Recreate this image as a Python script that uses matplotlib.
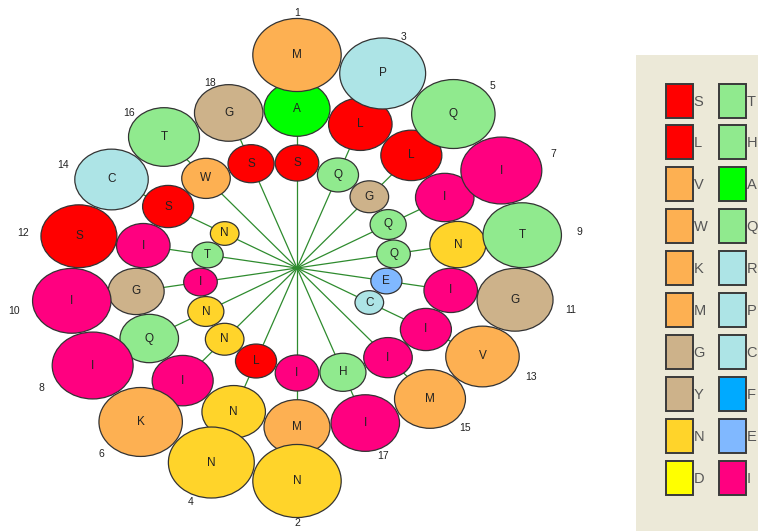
import numpy as np
import matplotlib.pyplot as plt
from matplotlib.patches import Ellipse, Rectangle

# residues along the spiral, outermost turn first
sequence = list("MNPNQKIITIGSVCMTIGAMLNLIIQNGIIISIWHSSIQLGNQNQIETCN")
positions = list(range(1, 19))

legend_left = ['S', 'L', 'V', 'W', 'K', 'M', 'G', 'Y', 'N', 'D']
legend_right = ['T', 'H', 'A', 'Q', 'R', 'P', 'C', 'F', 'E', 'I']

residue_colors = {
    'S': '#ff0000', 'L': '#ff0000',
    'V': '#fdb052', 'W': '#fdb052', 'K': '#fdb052', 'M': '#fdb052',
    'G': '#cdb28a', 'Y': '#cdb28a',
    'N': '#ffd42a', 'D': '#ffff00',
    'T': '#90ea8e', 'H': '#90ea8e', 'Q': '#90ea8e', 'A': '#00ff00',
    'R': '#ade4e6', 'P': '#ade4e6', 'C': '#ade4e6',
    'F': '#00aaff', 'E': '#80b8ff', 'I': '#ff0080',
}

# layout (pixel units)
cx, cy = 297, 268
sx = 1.21          # horizontal stretch of the wheel
r_start, r_step = 213, 6
size_frac = 0.343
n_pos = len(positions)


def place(i):
    turn, p = divmod(i, n_pos)
    k = p // 2
    ang = np.radians(20 * k + 180 * (p % 2))
    r = r_start - r_step * (turn * 9 + k)
    return cx + sx * r * np.sin(ang), cy - r * np.cos(ang), r


fig = plt.figure(figsize=(7.58, 5.31), dpi=100)
ax = fig.add_axes([0, 0, 1, 1])
ax.set_xlim(0, 758)
ax.set_ylim(531, 0)
ax.axis('off')

# spokes from the centre to the outer residue of every position
for p in range(n_pos):
    x, y, r = place(p)
    ax.plot([cx, x], [cy, y], color='#2e8b2e', lw=0.9, zorder=1)

# residues: inner ones first so outer ones sit on top
for i in range(len(sequence) - 1, -1, -1):
    aa = sequence[i]
    x, y, r = place(i)
    d = size_frac * r
    ax.add_patch(Ellipse((x, y), d * sx, d, facecolor=residue_colors[aa],
                         edgecolor='#333333', lw=0.9, zorder=2 + (len(sequence) - i) * 0.01))
    ax.text(x, y, aa, ha='center', va='center', fontsize=8.5, color='#222222',
            family='Liberation Sans', zorder=3)

# position numbers
for p in range(n_pos):
    x, y, r = place(p)
    ang = np.radians(20 * (p // 2) + 180 * (p % 2))
    re = r + size_frac * r / 2
    lx = cx + (sx * re + 19) * np.sin(ang)
    ly = cy - (re + 5) * np.cos(ang) + 3.5 * abs(np.sin(ang))
    ax.text(lx, ly, str(positions[p]), ha='center', va='center', fontsize=7.5,
            color='#222222', family='Liberation Sans', zorder=3)

# legend panel
ax.add_patch(Rectangle((636, 55), 130, 480, facecolor='#ece9d8', edgecolor='none', zorder=0))
row0, row_step = 100.5, 41.9
for col, (letters, x0) in enumerate([(legend_left, 666), (legend_right, 719)]):
    for j, aa in enumerate(letters):
        yc = row0 + j * row_step
        ax.add_patch(Rectangle((x0, yc - 17), 27, 34, facecolor=residue_colors[aa],
                               edgecolor='#3a3a3a', lw=1.4, zorder=2))
        ax.text(x0 + 27.5, yc + 1, aa, ha='left', va='center', fontsize=10.5,
                color='#555555', family='Liberation Sans', zorder=3)

fig.savefig('out.png', dpi=100)
